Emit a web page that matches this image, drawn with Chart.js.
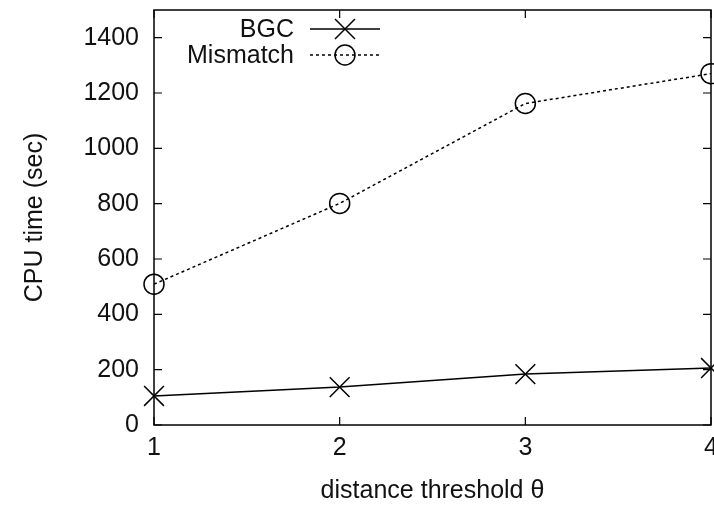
<!DOCTYPE html>
<html><head><meta charset="utf-8">
<script src="https://cdn.jsdelivr.net/npm/chart.js@4/dist/chart.umd.min.js"></script>
<style>html,body{margin:0;padding:0;background:#fff}#wrap{width:714px;height:505px}</style>
</head><body><div id="wrap"><canvas id="c" width="714" height="505"></canvas></div>
<script>
const thresholds = [1, 2, 3, 4];
const bgcValues = [105, 137, 184, 206];
const mismatchValues = [509, 801, 1162, 1270];
const yTicks = [0, 200, 400, 600, 800, 1000, 1200, 1400];
const seriesNames = ['BGC', 'Mismatch'];

const FONT = '"Liberation Sans", Arial, sans-serif';
const FS = 25;

const framePlugin = {
  id: 'frame',
  afterDraw(chart) {
    const ctx = chart.ctx, a = chart.chartArea;
    const xs = chart.scales.x, ys = chart.scales.y;
    ctx.save();
    ctx.strokeStyle = '#000'; ctx.lineWidth = 1.5;
    ctx.strokeRect(a.left, a.top, a.right - a.left, a.bottom - a.top);
    ctx.lineWidth = 1.2;
    ctx.beginPath();
    const L = 8;
    yTicks.forEach(v => {
      const y = ys.getPixelForValue(v);
      ctx.moveTo(a.left, y); ctx.lineTo(a.left + L, y);
      ctx.moveTo(a.right, y); ctx.lineTo(a.right - L, y);
    });
    thresholds.forEach(v => {
      const x = xs.getPixelForValue(v);
      ctx.moveTo(x, a.bottom); ctx.lineTo(x, a.bottom - L);
      ctx.moveTo(x, a.top); ctx.lineTo(x, a.top + L);
    });
    ctx.stroke();
    // legend
    ctx.font = FS + 'px ' + FONT;
    ctx.fillStyle = '#111';
    ctx.textAlign = 'right'; ctx.textBaseline = 'middle';
    const rows = [{y: 29, dash: [], style: 'x'}, {y: 55, dash: [3, 3], style: 'o'}];
    rows.forEach((r, i) => {
      ctx.fillText(seriesNames[i], 294, r.y + 1);
      ctx.setLineDash(r.dash);
      ctx.lineWidth = 1.5;
      ctx.beginPath(); ctx.moveTo(310, r.y); ctx.lineTo(380, r.y); ctx.stroke();
      ctx.setLineDash([]);
      ctx.beginPath();
      const cx = 345, r0 = 10;
      if (r.style === 'x') {
        ctx.moveTo(cx - r0, r.y - r0); ctx.lineTo(cx + r0, r.y + r0);
        ctx.moveTo(cx - r0, r.y + r0); ctx.lineTo(cx + r0, r.y - r0);
      } else {
        ctx.arc(cx, r.y, r0, 0, Math.PI * 2);
      }
      ctx.stroke();
    });
    ctx.restore();
  }
};

new Chart(document.getElementById('c'), {
  type: 'line',
  data: {
    datasets: [
      {
        label: seriesNames[0],
        data: thresholds.map((t, i) => ({x: t, y: bgcValues[i]})),
        borderColor: '#000', backgroundColor: 'rgba(0,0,0,0)', borderWidth: 1.5,
        pointStyle: 'crossRot', pointRadius: 14, pointBorderWidth: 1.5, pointBorderColor: '#000',
        clip: false, tension: 0
      },
      {
        label: seriesNames[1],
        data: thresholds.map((t, i) => ({x: t, y: mismatchValues[i]})),
        borderColor: '#000', backgroundColor: 'rgba(0,0,0,0)', borderWidth: 1.5, borderDash: [3, 3],
        pointStyle: 'circle', pointRadius: 10, pointBorderWidth: 1.5, pointBorderColor: '#000',
        pointBackgroundColor: 'rgba(0,0,0,0)',
        clip: false, tension: 0
      }
    ]
  },
  options: {
    animation: false, responsive: false, devicePixelRatio: 1,
    layout: {autoPadding: false, padding: {top: 10, right: 3, left: 0, bottom: 0}},
    plugins: {legend: {display: false}, tooltip: {enabled: false}},
    scales: {
      x: {
        type: 'linear', min: 1, max: 4,
        grid: {display: false, drawTicks: false}, border: {display: false},
        afterBuildTicks: s => { s.ticks = thresholds.map(v => ({value: v})); },
        ticks: {color: '#111', font: {family: FONT, size: FS}, padding: 8, maxRotation: 0, autoSkip: false,
                callback: v => String(v)},
        title: {display: true, text: 'distance threshold θ', color: '#111',
                font: {family: FONT, size: FS, lineHeight: 1.1}, padding: {top: 0, bottom: 0}},
        afterFit: s => { s.height = 80; s.paddingLeft = 0; s.paddingRight = 0; }
      },
      y: {
        min: 0, max: 1500,
        grid: {display: false, drawTicks: false}, border: {display: false},
        afterBuildTicks: s => { s.ticks = yTicks.map(v => ({value: v})); },
        ticks: {color: '#111', font: {family: FONT, size: FS}, padding: 15, callback: v => String(v)},
        title: {display: true, text: 'CPU time (sec)', color: '#111',
                font: {family: FONT, size: FS, lineHeight: 1.2}, padding: {top: 20, bottom: 0}},
        afterFit: s => { s.width = 154; s.paddingTop = 0; s.paddingBottom = 0; }
      }
    }
  },
  plugins: [framePlugin]
});
</script></body></html>
